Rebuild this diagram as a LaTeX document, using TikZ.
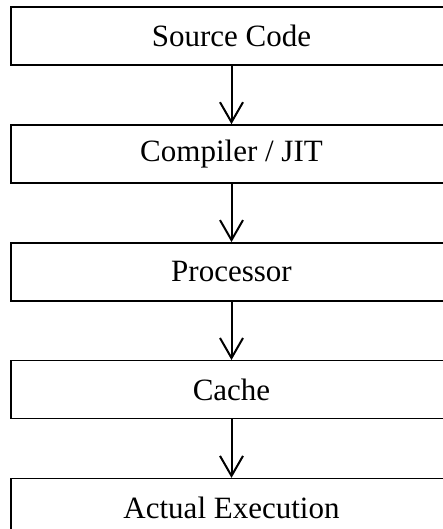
\documentclass[tikz,border=0pt]{standalone}
\usepackage{fontspec}
\setmainfont{Liberation Serif}
\usetikzlibrary{positioning,arrows.meta}
\begin{document}
\begin{tikzpicture}[x=1pt,y=1pt,>={Straight Barb[length=20pt,width=23pt,line width=2pt]},
    stage/.style={draw,line width=1.4pt,minimum width=441pt,minimum height=58pt,inner sep=0pt,
      font=\fontsize{31}{35}\selectfont},
    node distance=58.5pt]
  \useasboundingbox (0,0) rectangle (443,-529);
  \node[stage] (src) at (231.5,-36) {Source Code};
  \node[stage,below=of src] (jit) {Compiler / JIT};
  \node[stage,below=of jit] (cpu) {Processor};
  \node[stage,below=of cpu] (cache) {Cache};
  \node[stage,below=of cache] (exec) {Actual Execution};
  \draw[->,line width=2pt] (src) -- (jit);
  \draw[->,line width=2pt] (jit) -- (cpu);
  \draw[->,line width=2pt] (cpu) -- (cache);
  \draw[->,line width=2pt] (cache) -- (exec);
\end{tikzpicture}
\end{document}
